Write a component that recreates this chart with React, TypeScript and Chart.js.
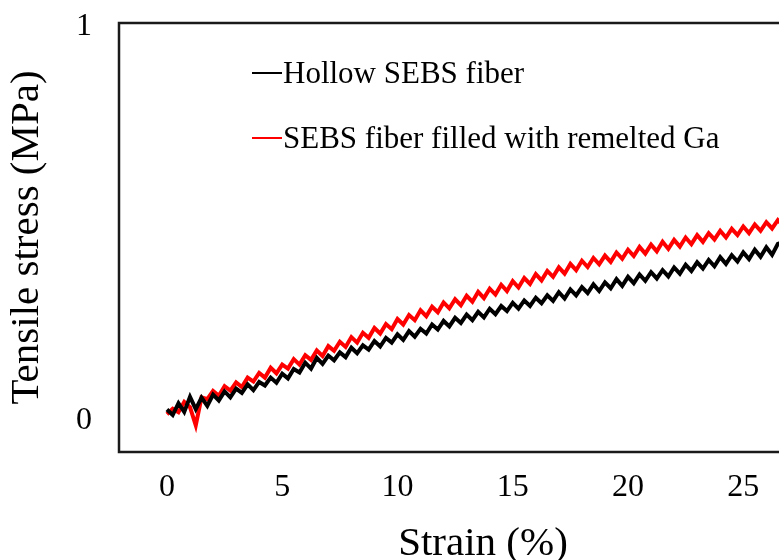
import React, { useEffect, useRef } from "react";
import { Chart, registerables } from "chart.js";

Chart.register(...registerables);

const STRAIN = [
  0, 0.25, 0.5, 0.75, 1, 1.25, 1.5, 1.75, 2, 2.25, 2.5, 2.75, 3, 3.25, 3.5, 3.75,
  4, 4.25, 4.5, 4.75, 5, 5.25, 5.5, 5.75, 6, 6.25, 6.5, 6.75, 7, 7.25, 7.5, 7.75,
  8, 8.25, 8.5, 8.75, 9, 9.25, 9.5, 9.75, 10, 10.25, 10.5, 10.75, 11, 11.25, 11.5, 11.75,
  12, 12.25, 12.5, 12.75, 13, 13.25, 13.5, 13.75, 14, 14.25, 14.5, 14.75, 15, 15.25, 15.5, 15.75,
  16, 16.25, 16.5, 16.75, 17, 17.25, 17.5, 17.75, 18, 18.25, 18.5, 18.75, 19, 19.25, 19.5, 19.75,
  20, 20.25, 20.5, 20.75, 21, 21.25, 21.5, 21.75, 22, 22.25, 22.5, 22.75, 23, 23.25, 23.5, 23.75,
  24, 24.25, 24.5, 24.75, 25, 25.25, 25.5, 25.75, 26, 26.25, 26.5, 26.75, 27,
];

const HOLLOW = [
  0.018, 0.004, 0.034, 0.012, 0.05, 0.019, 0.048, 0.027, 0.056, 0.041, 0.064, 0.049, 0.071, 0.06, 0.082, 0.067,
  0.088, 0.079, 0.099, 0.086, 0.109, 0.097, 0.121, 0.112, 0.137, 0.122, 0.149, 0.134, 0.155, 0.143, 0.163, 0.151,
  0.175, 0.161, 0.181, 0.17, 0.192, 0.178, 0.2, 0.188, 0.209, 0.195, 0.217, 0.203, 0.223, 0.211, 0.234, 0.221,
  0.243, 0.229, 0.251, 0.238, 0.259, 0.245, 0.266, 0.252, 0.274, 0.26, 0.281, 0.268, 0.289, 0.274, 0.295, 0.281,
  0.302, 0.288, 0.308, 0.294, 0.316, 0.3, 0.323, 0.308, 0.329, 0.314, 0.336, 0.319, 0.341, 0.326, 0.349, 0.332,
  0.355, 0.339, 0.361, 0.345, 0.367, 0.351, 0.372, 0.356, 0.379, 0.363, 0.386, 0.37, 0.392, 0.376, 0.398, 0.382,
  0.405, 0.388, 0.41, 0.394, 0.417, 0.4, 0.424, 0.406, 0.43, 0.411, 0.439, 0.444, 0.447,
];

const FILLED = [
  0.006, 0.02, 0.011, 0.037, 0.024, -0.022, 0.049, 0.044, 0.065, 0.053, 0.077, 0.066, 0.087, 0.075, 0.099, 0.089,
  0.111, 0.099, 0.124, 0.11, 0.132, 0.122, 0.146, 0.132, 0.156, 0.144, 0.168, 0.154, 0.179, 0.167, 0.19, 0.177,
  0.202, 0.188, 0.213, 0.2, 0.225, 0.211, 0.235, 0.222, 0.248, 0.234, 0.258, 0.245, 0.27, 0.255, 0.279, 0.265,
  0.29, 0.275, 0.298, 0.283, 0.307, 0.292, 0.317, 0.301, 0.325, 0.31, 0.335, 0.319, 0.344, 0.328, 0.352, 0.337,
  0.362, 0.346, 0.37, 0.355, 0.379, 0.363, 0.388, 0.372, 0.396, 0.38, 0.403, 0.387, 0.409, 0.393, 0.417, 0.401,
  0.424, 0.408, 0.431, 0.414, 0.437, 0.42, 0.444, 0.426, 0.449, 0.432, 0.455, 0.438, 0.461, 0.444, 0.466, 0.45,
  0.472, 0.455, 0.477, 0.461, 0.483, 0.466, 0.488, 0.472, 0.494, 0.478, 0.499, 0.484, 0.504,
];

const SERIES_LABELS = ["Hollow SEBS fiber", "SEBS fiber filled with remelted Ga"];
const SERIES_COLORS = ["#000000", "#ff0000"];
const X_TICKS = [0, 5, 10, 15, 20, 25];
const Y_TICKS = [0, 1];
const X_TITLE = "Strain (%)";
const Y_TITLE = "Tensile stress (MPa)";

const FONT = "'Liberation Serif', 'Times New Roman', serif";

const framePlugin = {
  id: "frame",
  afterDatasetsDraw(chart: any) {
    const { ctx, chartArea } = chart;
    ctx.save();
    ctx.strokeStyle = "#1a1a1a";
    ctx.lineWidth = 2.5;
    ctx.strokeRect(chartArea.left, chartArea.top, chartArea.right - chartArea.left, chartArea.bottom - chartArea.top);
    ctx.restore();
  },
};

const legendPlugin = {
  id: "innerLegend",
  afterDraw(chart: any) {
    const { ctx, chartArea } = chart;
    ctx.save();
    ctx.font = `31px ${FONT}`;
    ctx.textBaseline = "alphabetic";
    ctx.textAlign = "left";
    const x0 = chartArea.left + 133;
    const rows = [chartArea.top + 50, chartArea.top + 115];
    chart.data.datasets.forEach((ds: any, i: number) => {
      const y = rows[i];
      ctx.strokeStyle = ds.borderColor;
      ctx.lineWidth = 2;
      ctx.beginPath();
      ctx.moveTo(x0, y);
      ctx.lineTo(x0 + 30, y);
      ctx.stroke();
      ctx.fillStyle = "#000000";
      ctx.fillText(ds.label, x0 + 31, y + 10);
    });
    ctx.restore();
  },
};

export default function App() {
  const ref = useRef<HTMLCanvasElement | null>(null);

  useEffect(() => {
    if (!ref.current) return;
    const datasets = [HOLLOW, FILLED].map((vals, i) => ({
      label: SERIES_LABELS[i],
      data: STRAIN.map((x, j) => ({ x, y: vals[j] })),
      borderColor: SERIES_COLORS[i],
      backgroundColor: SERIES_COLORS[i],
      borderWidth: 4,
      pointRadius: 0,
      tension: 0,
      showLine: true,
    }));
    const chart = new Chart(ref.current, {
      type: "scatter",
      data: { datasets },
      options: {
        animation: false,
        responsive: false,
        layout: { padding: { left: 0, top: 23, right: 13, bottom: 0 } },
        plugins: { legend: { display: false }, tooltip: { enabled: false } },
        scales: {
          x: {
            type: "linear",
            min: -2.08,
            max: 29.5,
            afterBuildTicks: (s: any) => {
              s.ticks = X_TICKS.map((v) => ({ value: v }));
            },
            afterFit: (s: any) => {
              s.height = 128;
              s.paddingLeft = 0;
              s.paddingRight = 0;
            },
            grid: { display: false, drawTicks: false },
            border: { display: false },
            ticks: {
              color: "#000",
              font: { family: FONT, size: 32 },
              padding: 16,
              maxRotation: 0,
              autoSkip: false,
            },
            title: {
              display: true,
              text: X_TITLE,
              color: "#000",
              font: { family: FONT, size: 41 },
              padding: { top: 0, bottom: 11 },
            },
          },
          y: {
            type: "linear",
            min: -0.09,
            max: 1,
            afterBuildTicks: (s: any) => {
              s.ticks = Y_TICKS.map((v) => ({ value: v }));
            },
            afterFit: (s: any) => {
              s.width = 119;
              s.paddingTop = 0;
              s.paddingBottom = 0;
            },
            grid: { display: false, drawTicks: false },
            border: { display: false },
            ticks: {
              color: "#000",
              font: { family: FONT, size: 32 },
              padding: 27,
              labelOffset: 4,
              autoSkip: false,
            },
            title: {
              display: true,
              text: Y_TITLE,
              color: "#000",
              font: { family: FONT, size: 41 },
              padding: { top: 3, bottom: 0 },
            },
          },
        },
      },
      plugins: [framePlugin, legendPlugin],
    });
    return () => chart.destroy();
  }, []);

  return (
    <div
      style={{
        position: "fixed",
        left: 0,
        top: 0,
        width: 779,
        height: 560,
        overflow: "hidden",
        background: "#ffffff",
      }}
    >
      <canvas ref={ref} width={860} height={580} style={{ display: "block", width: 860, height: 580 }} />
    </div>
  );
}
